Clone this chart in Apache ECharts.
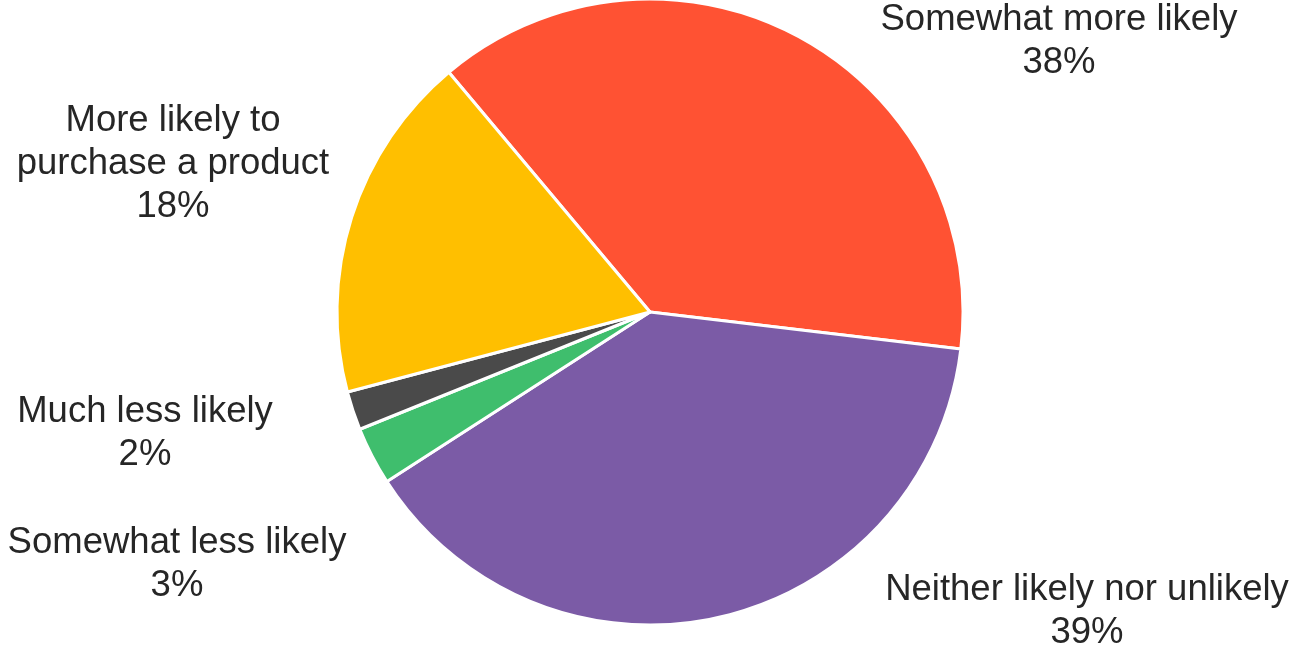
<!DOCTYPE html>
<html>
<head>
<meta charset="utf-8">
<script src="https://cdn.jsdelivr.net/npm/echarts@6/dist/echarts.min.js"></script>
<style>
html,body{margin:0;padding:0;background:#fff;}
#chart{width:1294px;height:648px;}
</style>
</head>
<body>
<div id="chart"></div>
<script>
// Data (clockwise from the start angle)
const categories = ['Somewhat more likely', 'Neither likely nor unlikely', 'Somewhat less likely', 'Much less likely', 'More likely to\npurchase a product'];
const values = [38, 39, 3, 2, 18];
const colors = ['#FF5233', '#7B5BA6', '#3FBE6D', '#4A4A4A', '#FFBF00'];
// label anchor (center) positions in px
const labelPos = [[1059, 41], [1087, 611], [177, 564], [145, 433], [173, 164]];

const chart = echarts.init(document.getElementById('chart'));
chart.setOption({
  animation: false,
  backgroundColor: '#ffffff',
  series: [{
    type: 'pie',
    center: [650, 312],
    radius: 313,
    startAngle: 130,
    clockwise: true,
    avoidLabelOverlap: false,
    itemStyle: { borderColor: '#ffffff', borderWidth: 3 },
    label: {
      show: true,
      position: 'outside',
      formatter: p => p.name + '\n' + p.value + '%',
      fontFamily: 'Liberation Sans, Arial, sans-serif',
      fontSize: 36.5,
      lineHeight: 43,
      color: '#262626',
      align: 'center'
    },
    labelLine: { show: false },
    labelLayout: function (params) {
      const pos = labelPos[params.dataIndex];
      return { x: pos[0], y: pos[1], align: 'center', verticalAlign: 'middle' };
    },
    emphasis: { disabled: true },
    data: categories.map((c, i) => ({ name: c, value: values[i], itemStyle: { color: colors[i] } }))
  }]
});
</script>
</body>
</html>
